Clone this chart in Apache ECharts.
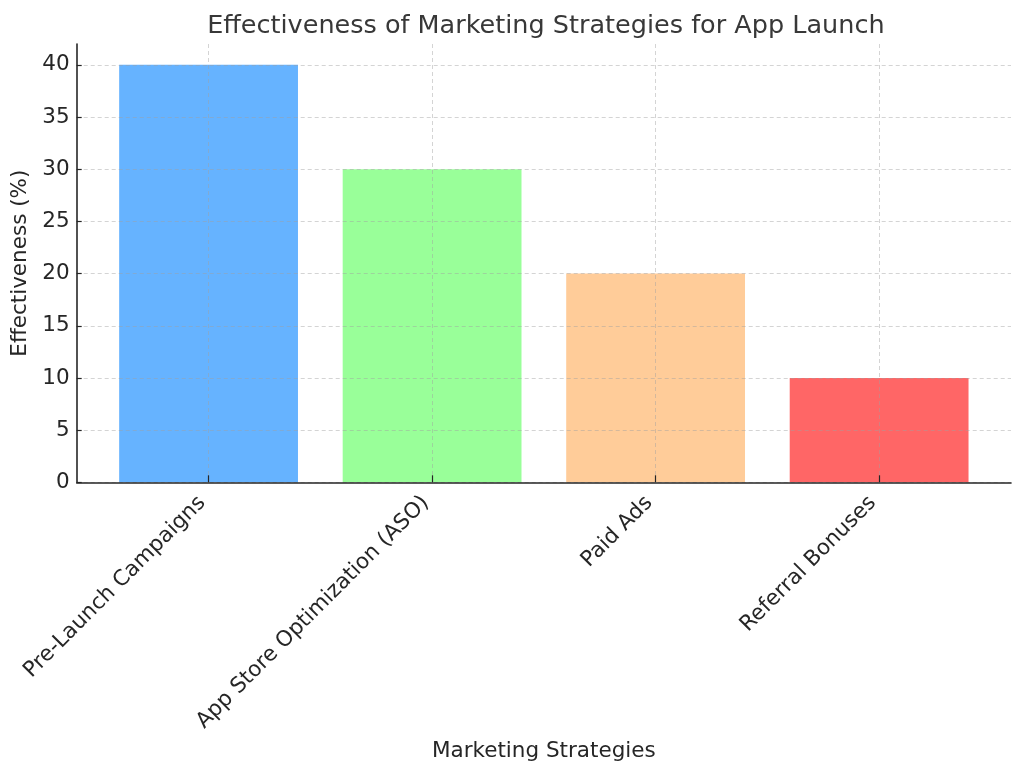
<!DOCTYPE html>
<html>
<head>
<meta charset="utf-8">
<script src="https://cdn.jsdelivr.net/npm/echarts@6/dist/echarts.min.js"></script>
<style>
html,body{margin:0;padding:0;background:#fff;}
#chart{width:1024px;height:776px;}
</style>
</head>
<body>
<div id="chart"></div>
<script>
const categories = ["Pre-Launch Campaigns", "App Store Optimization (ASO)", "Paid Ads", "Referral Bonuses"];
const effectiveness = [40, 30, 20, 10];
const barColors = ["#66b3ff", "#99ff99", "#ffcc99", "#ff6666"];
const yTicks = [0, 5, 10, 15, 20, 25, 30, 35, 40];
const xPositions = [0, 1, 2, 3];

const FONT = "DejaVu Sans";
const gridLeft = 76.7, gridRight = 13, gridTop = 44, gridBottom = 293.7;
const xMin = -0.59, xMax = 3.59;
const plotW = 1024 - gridLeft - gridRight;
const barW = 0.8 * plotW / (xMax - xMin);

const chart = echarts.init(document.getElementById('chart'), null, {renderer: 'canvas'});
chart.setOption({
  backgroundColor: '#ffffff',
  animation: false,
  title: {
    text: 'Effectiveness of Marketing Strategies for App Launch',
    left: gridLeft + plotW / 2 - 3,
    textAlign: 'center',
    top: 8,
    textStyle: {fontFamily: FONT, fontSize: 25.5, fontWeight: 'normal', color: '#383838'}
  },
  grid: {left: gridLeft, right: gridRight, top: gridTop, bottom: gridBottom, containLabel: false},
  xAxis: {
    type: 'value',
    min: xMin,
    max: xMax,
    z: 10,
    name: 'Marketing Strategies',
    nameLocation: 'middle',
    nameGap: 258,
    nameTextStyle: {fontFamily: FONT, fontSize: 21.5, color: '#262626'},
    axisLine: {show: true, onZero: false, lineStyle: {color: '#262626', width: 1.6}},
    axisTick: {show: true, inside: true, length: 7, customValues: xPositions, lineStyle: {color: '#262626', width: 1.2}},
    axisLabel: {
      customValues: xPositions,
      rotate: 45,
      margin: 11,
      padding: [0, 9, 0, 0],
      fontFamily: FONT, fontSize: 21.5, color: '#262626',
      formatter: v => categories[Math.round(v)] || ''
    },
    splitLine: {show: true, lineStyle: {color: 'rgba(160,160,160,0.45)', type: [4, 3], width: 1}}
  },
  yAxis: {
    type: 'value',
    min: 0,
    max: 42,
    z: 10,
    name: 'Effectiveness (%)',
    nameLocation: 'middle',
    nameGap: 44,
    nameTextStyle: {fontFamily: FONT, fontSize: 21.5, color: '#262626'},
    axisLine: {show: true, onZero: false, lineStyle: {color: '#262626', width: 1.6}},
    axisTick: {show: true, inside: true, length: 5, customValues: yTicks, lineStyle: {color: '#262626', width: 1.2}},
    axisLabel: {customValues: yTicks, margin: 7, fontFamily: FONT, fontSize: 21.5, color: '#262626'},
    splitLine: {show: true, lineStyle: {color: 'rgba(160,160,160,0.45)', type: [4, 3], width: 1}}
  },
  series: [{
    type: 'bar',
    barWidth: barW,
    data: effectiveness.map((v, i) => ({value: [xPositions[i], v], itemStyle: {color: barColors[i]}}))
  }]
});
</script>
</body>
</html>
